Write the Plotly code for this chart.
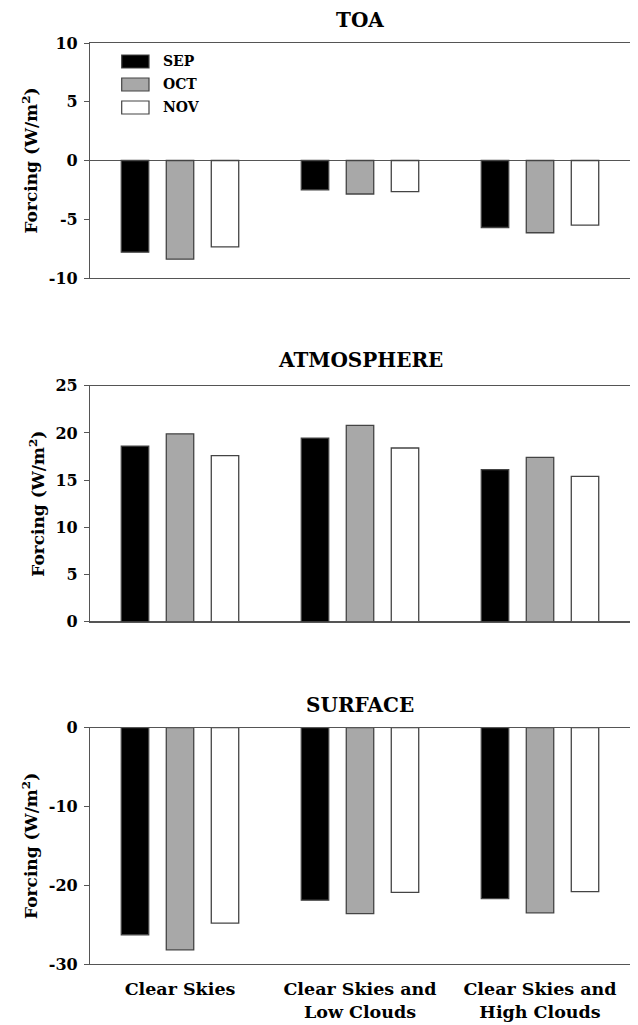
import plotly.graph_objects as go

categories = ["Clear Skies", "Clear Skies and<br>Low Clouds", "Clear Skies and<br>High Clouds"]
months = ["SEP", "OCT", "NOV"]
month_fill = ["#000000", "#a8a8a8", "#ffffff"]

toa_sep = [-7.8, -2.5, -5.7]
toa_oct = [-8.4, -2.85, -6.15]
toa_nov = [-7.35, -2.65, -5.5]

atm_sep = [18.6, 19.45, 16.1]
atm_oct = [19.9, 20.8, 17.4]
atm_nov = [17.6, 18.4, 15.4]

sfc_sep = [-26.3, -21.9, -21.7]
sfc_oct = [-28.2, -23.6, -23.5]
sfc_nov = [-24.8, -20.9, -20.8]

panel_titles = ["TOA", "ATMOSPHERE", "SURFACE"]
panel_ranges = [[-10, 10], [0, 25], [-30, 0]]
toa_ticks = [-10, -5, 0, 5, 10]
atm_ticks = [0, 5, 10, 15, 20, 25]
sfc_ticks = [-30, -20, -10, 0]
panel_ticks = [toa_ticks, atm_ticks, sfc_ticks]
panel_data = [
    [toa_sep, toa_oct, toa_nov],
    [atm_sep, atm_oct, atm_nov],
    [sfc_sep, sfc_oct, sfc_nov],
]

# the page body has an 8px margin, so the figure is drawn 8px in from the top-left
OFF = 8
W, H = 638 - OFF, 1025 - OFF
FONT = "DejaVu Serif"
LINE = "#555555"

# pixel layout of plot areas in window coordinates (top, bottom)
px_left, px_right = 90 - OFF, 630 - OFF
px_rows = [(43 - OFF, 278 - OFF), (385.7 - OFF, 621.7 - OFF), (727.7 - OFF, 964 - OFF)]
title_centers = [20 - OFF, 360 - OFF, 705 - OFF]

fig = go.Figure()

for i, (title, rng, ticks, series) in enumerate(zip(panel_titles, panel_ranges, panel_ticks, panel_data)):
    sfx = "" if i == 0 else str(i + 1)
    for name, fill, vals in zip(months, month_fill, series):
        fig.add_trace(go.Bar(
            x=categories, y=vals, name=name,
            marker=dict(color=fill, line=dict(color="#444444", width=1.3)),
            xaxis="x" + sfx, yaxis="y" + sfx, showlegend=False,
        ))
    top, bot = px_rows[i]
    fig.layout["xaxis" + sfx] = dict(
        domain=[px_left / W, px_right / W], anchor="y" + sfx,
        type="category", range=[-0.5, 2.5], automargin=False,
        showline=True, linecolor=LINE, linewidth=1.2, mirror=True,
        ticks="", showticklabels=(i == 2), showgrid=False,
        tickfont=dict(family=FONT, size=17.5, color="black", weight="bold"),
        ticklabelstandoff=9,
    )
    fig.layout["yaxis" + sfx] = dict(
        domain=[1 - bot / H, 1 - top / H], anchor="x" + sfx,
        range=rng, tickvals=ticks, ticktext=[str(t) for t in ticks],
        automargin=False,
        showline=True, linecolor=LINE, linewidth=1.2, mirror="ticks",
        ticks="outside", ticklen=5, tickcolor=LINE, tickwidth=1.2,
        ticklabelstandoff=3,
        showgrid=False, zeroline=True, zerolinecolor=LINE, zerolinewidth=1.2,
        tickfont=dict(family=FONT, size=16, color="black", weight="bold"),
        title=dict(text="Forcing (W/m<sup>2</sup>)", standoff=6,
                   font=dict(family=FONT, size=17, color="black", weight="bold")),
    )
    fig.add_annotation(
        x=(px_left + px_right) / 2 / W, y=1 - title_centers[i] / H,
        xref="paper", yref="paper", text=title, showarrow=False,
        xanchor="center", yanchor="middle",
        font=dict(family=FONT, size=20, color="black", weight="bold"),
    )

# manual legend in the TOA panel
leg_centers_px = [61.5 - OFF, 84.5 - OFF, 107.5 - OFF]
t0, b0 = px_rows[0]
for name, fill, cy in zip(months, month_fill, leg_centers_px):
    y0 = (b0 - (cy + 6.5)) / (b0 - t0)
    y1 = (b0 - (cy - 6.5)) / (b0 - t0)
    fig.add_shape(type="rect", xref="x domain", yref="y domain",
                  x0=(121.7 - OFF - px_left) / (px_right - px_left),
                  x1=(149 - OFF - px_left) / (px_right - px_left),
                  y0=y0, y1=y1, fillcolor=fill,
                  line=dict(color="#444444", width=1.2))
    fig.add_annotation(xref="x domain", yref="y domain",
                       x=(161 - OFF - px_left) / (px_right - px_left),
                       y=(b0 - cy) / (b0 - t0), text=name, showarrow=False,
                       xanchor="left", yanchor="middle",
                       font=dict(family=FONT, size=14, color="black", weight="bold"))

fig.update_layout(
    width=W, height=H, autosize=False,
    margin=dict(l=0, r=0, t=0, b=0),
    paper_bgcolor="white", plot_bgcolor="white",
    barmode="group", bargap=0.25, bargroupgap=0.39,
    showlegend=False,
)

fig.write_html("out.html")
